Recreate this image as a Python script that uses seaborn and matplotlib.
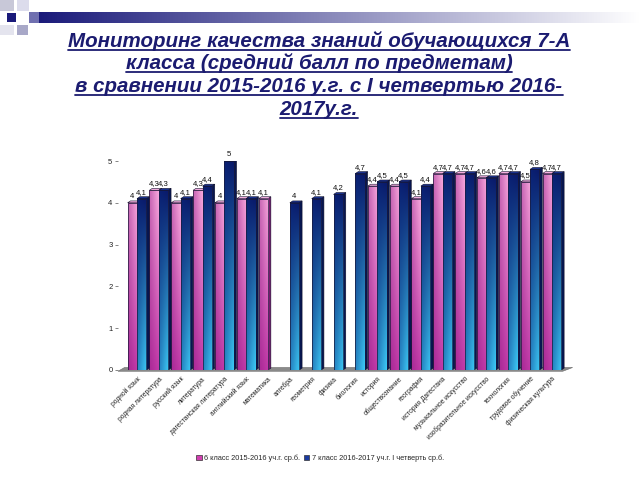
import numpy as np
import pandas as pd
import matplotlib
matplotlib.use("Agg")
import matplotlib.pyplot as plt
import seaborn as sns
from matplotlib.patches import Polygon, Rectangle, Patch
from matplotlib.lines import Line2D
from matplotlib.colors import to_rgb

# ---------------- data ----------------
subjects = [
    "родной язык", "родная литература", "русский язык", "литература",
    "дагестанская литература", "английский язык", "математика", "алгебра",
    "геометрия", "физика", "биология", "история", "обществознание",
    "география", "история Дагестана", "музыкальное искусство",
    "изобразительное искусство", "технология", "трудовое обучение",
    "физическая культура",
]
nan = np.nan
grade6 = [4.0, 4.3, 4.0, 4.3, 4.0, 4.1, 4.1, nan, nan, nan, nan,
          4.4, 4.4, 4.1, 4.7, 4.7, 4.6, 4.7, 4.5, 4.7]
grade7 = [4.1, 4.3, 4.1, 4.4, 5.0, 4.1, nan, 4.0, 4.1, 4.2, 4.7,
          4.5, 4.5, 4.4, 4.7, 4.7, 4.6, 4.7, 4.8, 4.7]
series_names = ["6 класс 2015-2016 уч.г. ср.б.",
                "7 класс 2016-2017 уч.г. I четверть ср.б."]
yticks = [0, 1, 2, 3, 4, 5]
title_lines = ["Мониторинг качества знаний обучающихся 7-А",
               "класса (средний балл по предметам)",
               "в сравнении 2015-2016 у.г. с I четвертью 2016-",
               "2017у.г."]

df = pd.DataFrame({"subject": subjects * 2,
                   "series": [series_names[0]] * len(subjects) + [series_names[1]] * len(subjects),
                   "value": grade6 + grade7}).dropna()

sns.set_theme(style="white")
plt.rcParams["font.family"] = ["Liberation Sans", "DejaVu Sans"]

fig = plt.figure(figsize=(6.4, 4.8), dpi=100)
ax = fig.add_axes([118 / 640, 1 - 370 / 480, 447 / 640, 209 / 480])

key_colors = {series_names[0]: "#ff00ff", series_names[1]: "#0000ff"}
sns.barplot(data=df, x="subject", y="value", hue="series", order=subjects,
            hue_order=series_names, palette=key_colors, width=0.86, saturation=1,
            legend=False, ax=ax, errorbar=None)

XL = (-0.87, 19.6)
YL = (0, 5)

def grad_img(c_top, c_bot, c_left_mix, n=40):
    t = np.linspace(0, 1, n)[:, None]          # 0 top -> 1 bottom
    s = np.linspace(0, 1, 12)[None, :]          # 0 left -> 1 right
    top = np.array(to_rgb(c_top)); bot = np.array(to_rgb(c_bot))
    base = top[None, None, :] * (1 - t[..., None]) + bot[None, None, :] * t[..., None]
    base = np.repeat(base, 12, axis=1)
    dark = np.array(to_rgb(c_left_mix))
    k = (0.45 * (1 - s))[..., None]
    img = base * (1 - k) + dark[None, None, :] * k
    return np.clip(img, 0, 1)

pink_img = grad_img("#f7a6dc", "#c23aa8", "#8a1580")
blue_img = grad_img("#0a1a6a", "#3cc8f4", "#0a2a80")

dx, dy = 0.13, 0.045
z = 3
for bar in list(ax.patches):
    h = bar.get_height()
    if not np.isfinite(h) or h <= 0:
        continue
    x0, w = bar.get_x(), bar.get_width()
    fc = bar.get_facecolor()
    is_pink = fc[0] > 0.5
    img = pink_img if is_pink else blue_img
    side_c = "#7a1670" if is_pink else "#071650"
    top_c = "#f4b0e0" if is_pink else "#1a3290"
    bar.set_facecolor("none")
    bar.set_edgecolor("#1a1a3a")
    bar.set_linewidth(0.5)
    bar.set_zorder(z + 0.5)
    ax.imshow(img, extent=[x0, x0 + w, 0, h], aspect="auto", zorder=z,
              interpolation="bilinear")
    ax.add_patch(Polygon([(x0 + w, 0), (x0 + w + dx, dy), (x0 + w + dx, h + dy), (x0 + w, h)],
                         closed=True, facecolor=side_c, edgecolor="#10102a", lw=0.4, zorder=z - 0.2))
    ax.add_patch(Polygon([(x0, h), (x0 + dx, h + dy), (x0 + w + dx, h + dy), (x0 + w, h)],
                         closed=True, facecolor=top_c, edgecolor="#10102a", lw=0.4, zorder=z + 0.6))
    lbl = ("%.1f" % h).rstrip("0").rstrip(".").replace(".", ",")
    ax.text(x0 + w / 2, h + 0.07, lbl, ha="center", va="bottom", fontsize=5.6,
            color="#111111", zorder=20, clip_on=False)
    z += 1

ax.set_xlim(*XL)
ax.set_ylim(*YL)

# floor
ax.add_patch(Polygon([(XL[0], -0.03), (XL[1] - 0.1, -0.03), (XL[1] + 0.35, 0.06), (XL[0] + 0.3, 0.06)],
                     closed=True, facecolor="#8a8a8a", edgecolor="#6a6a6a", lw=0.4,
                     zorder=2, clip_on=False))

for sp in ax.spines.values():
    sp.set_visible(False)
ax.set_xlabel("")
ax.set_ylabel("")
ax.set_yticks(yticks)
ax.set_yticklabels([str(v) for v in yticks], fontsize=5.5, color="#222222")
ax.tick_params(axis="y", length=2, width=0.5, color="#555555", pad=2, left=True)
ax.set_xticks(range(len(subjects)))
ax.set_xticklabels(subjects, rotation=45, ha="right", rotation_mode="anchor",
                   fontsize=4.8, color="#222222")
ax.tick_params(axis="x", length=0, pad=4)

# legend
handles = [Patch(facecolor="#d040b0", edgecolor="#333333", lw=0.5),
           Patch(facecolor="#1a3aa0", edgecolor="#333333", lw=0.5)]
fig.legend(handles, series_names, loc="center", bbox_to_anchor=(0.5, 1 - 458 / 480),
           ncol=2, frameon=False, fontsize=5.3, handlelength=0.7, handleheight=0.7,
           handletextpad=0.3, columnspacing=0.6)

# top banner decoration
bax = fig.add_axes([0, 1 - 45 / 480, 1, 45 / 480])
bax.set_xlim(0, 640)
bax.set_ylim(45, 0)
bax.axis("off")
grad = np.linspace(0, 1, 300)[None, :]
c0 = np.array(to_rgb("#1a1a7a")); c1 = np.array([1.0, 1.0, 1.0])
band = c0[None, None, :] * (1 - grad[..., None]) + c1[None, None, :] * grad[..., None]
bax.imshow(band, extent=[38, 640, 23, 12], aspect="auto", interpolation="bilinear")
for (x, y, w, h, c) in [(0, 0, 14, 11, "#c8c8d8"), (17, 0, 12, 11, "#dcdcec"),
                        (7, 13, 9, 9, "#1a1a7a"), (17, 13, 12, 9, "#ffffff"),
                        (29, 12, 10, 11, "#7070b0"), (17, 25, 11, 10, "#a8a8c8"),
                        (0, 25, 14, 10, "#e4e4ee")]:
    bax.add_patch(Rectangle((x, y), w, h, facecolor=c, edgecolor="none"))

# title with underline
title_color = "#1b1b70"
ys = [47, 69, 92, 115]
texts = []
for line, yb in zip(title_lines, ys):
    t = fig.text(319 / 640, 1 - yb / 480, line, ha="center", va="baseline",
                 fontsize=14.8, fontweight="bold", fontstyle="italic", color=title_color)
    texts.append(t)
fig.canvas.draw()
r = fig.canvas.get_renderer()
for t, yb in zip(texts, ys):
    bb = t.get_window_extent(renderer=r)
    yline = (480 - yb - 3) / 480
    fig.add_artist(Line2D([bb.x0 / 640, bb.x1 / 640], [yline, yline], color=title_color,
                          lw=1.3, transform=fig.transFigure))

fig.savefig("out.png", dpi=100)
